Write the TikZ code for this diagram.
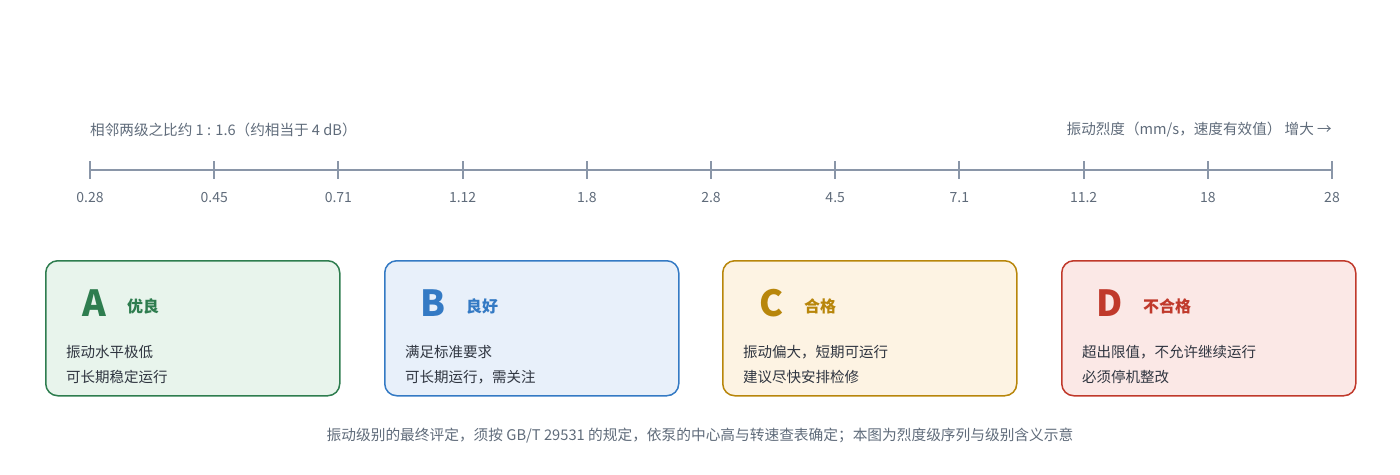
\documentclass[tikz,border=0pt]{standalone}
\usepackage{fontspec}
\setmainfont{Noto Sans CJK SC}
\usepackage{xcolor}
\definecolor{axisgray}{HTML}{8A96A8}
\definecolor{labelgray}{HTML}{5F6B7A}
\definecolor{bodydark}{HTML}{2F3540}
\definecolor{gradeA}{HTML}{2E7D4F}
\definecolor{fillA}{HTML}{E8F4EC}
\definecolor{gradeB}{HTML}{347AC4}
\definecolor{fillB}{HTML}{E8F0FA}
\definecolor{gradeC}{HTML}{B8860B}
\definecolor{fillC}{HTML}{FDF3E3}
\definecolor{gradeD}{HTML}{C0392B}
\definecolor{fillD}{HTML}{FBE8E6}
\usetikzlibrary{positioning}

\begin{document}
\begin{tikzpicture}[x=1pt,y=-1pt,
    axisline/.style={draw=axisgray,line width=1.9pt},
    ticklabel/.style={text=labelgray,font=\fontsize{14}{16}\selectfont},
    notetext/.style={text=labelgray,font=\fontsize{14.7}{17}\selectfont},
    headtext/.style={inner sep=0pt,text=labelgray,font=\fontsize{14.6}{17}\selectfont},
    gradebox/.style args={#1/#2}{draw=#1,fill=#2,line width=1.5pt,rounded corners=12pt,
      minimum width=294pt,minimum height=135pt,anchor=north west},
    gradeletter/.style={inner sep=0pt,font=\fontsize{36}{38}\selectfont\bfseries},
    gradename/.style={inner sep=0pt,anchor=west,font=\fontsize{16}{18}\selectfont\bfseries},
    bodytext/.style={inner sep=0pt,anchor=west,text=bodydark,font=\fontsize{14.5}{17}\selectfont}]
        \useasboundingbox (0,0) rectangle (1400,474);

        % scale
        \node[headtext,anchor=west] (ratio) at (90,130) {相邻两级之比约 1 : 1.6（约相当于 4 dB）};
        \node[headtext,anchor=east] (unit) at (1332,130) {振动烈度（mm/s，速度有效值） 增大 →};
        \foreach \val [count=\i from 0] in {0.28,0.45,0.71,1.12,1.8,2.8,4.5,7.1,11.2,18,28} {
          \coordinate (t\i) at (90+124.2*\i,170);
          \draw[axisline] ([yshift=9pt]t\i) -- ([yshift=-9pt]t\i);
          \node[ticklabel] (v\i) at (90+124.2*\i,198) {\val};
        }
        \draw[axisline] (t0) -- (t10);

        % grades
        \node[gradebox={gradeA/fillA}] (boxA) at (45,260) {};
        \node[gradeletter,text=gradeA] (letterA) at (94,303) {A};
        \node[gradename,text=gradeA] (nameA) at (127,306) {优良};
        \node[bodytext] (A1) at (66,352) {振动水平极低};
        \node[bodytext] (A2) at (66,377) {可长期稳定运行};

        \node[gradebox={gradeB/fillB}] (boxB) at (384,260) {};
        \node[gradeletter,text=gradeB] (letterB) at (433,303) {B};
        \node[gradename,text=gradeB] (nameB) at (466,306) {良好};
        \node[bodytext] (B1) at (405,352) {满足标准要求};
        \node[bodytext] (B2) at (405,377) {可长期运行，需关注};

        \node[gradebox={gradeC/fillC}] (boxC) at (722,260) {};
        \node[gradeletter,text=gradeC] (letterC) at (771,303) {C};
        \node[gradename,text=gradeC] (nameC) at (804,306) {合格};
        \node[bodytext] (C1) at (743,352) {振动偏大，短期可运行};
        \node[bodytext] (C2) at (743,377) {建议尽快安排检修};

        \node[gradebox={gradeD/fillD}] (boxD) at (1061,260) {};
        \node[gradeletter,text=gradeD] (letterD) at (1110,303) {D};
        \node[gradename,text=gradeD] (nameD) at (1143,306) {不合格};
        \node[bodytext] (D1) at (1082,352) {超出限值，不允许继续运行};
        \node[bodytext] (D2) at (1082,377) {必须停机整改};

        \node[notetext] (note) at (700,436) {振动级别的最终评定，须按 GB/T 29531 的规定，依泵的中心高与转速查表确定；本图为烈度级序列与级别含义示意};
\end{tikzpicture}
\end{document}
